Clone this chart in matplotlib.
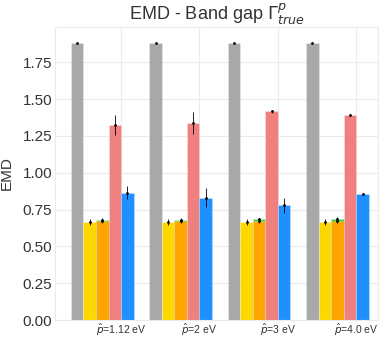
import matplotlib
matplotlib.use("Agg")
import matplotlib.pyplot as plt
import numpy as np

plt.rcParams['font.family'] = ['Liberation Sans', 'DejaVu Sans']
plt.rcParams['mathtext.fontset'] = 'dejavusans'

# data
groups = [r"$\hat{p}$=1.12 eV", r"$\hat{p}$=2 eV", r"$\hat{p}$=3 eV", r"$\hat{p}$=4.0 eV"]
gray_vals = [1.879, 1.879, 1.879, 1.881]
gray_err = [0.005, 0.005, 0.005, 0.005]
gold_vals = [0.665, 0.665, 0.665, 0.665]
gold_err = [0.022, 0.022, 0.022, 0.022]
green_vals = [0.683, 0.683, 0.684, 0.685]
green_err = [0.012, 0.012, 0.012, 0.012]
orange_vals = [0.674, 0.674, 0.675, 0.676]
orange_err = [0.015, 0.015, 0.015, 0.015]
salmon_vals = [1.327, 1.339, 1.418, 1.395]
salmon_err = [0.067, 0.075, 0.010, 0.005]
blue_vals = [0.866, 0.832, 0.780, 0.853]
blue_err = [0.043, 0.065, 0.050, 0.005]

w = 0.16
x = np.arange(len(groups))

fig = plt.figure(figsize=(3.79, 3.37), dpi=100)
ax = fig.add_axes([0.145, 0.05, 0.853, 0.87])

series = [
    (gray_vals, gray_err, "darkgray", -4),
    (gold_vals, gold_err, "gold", -3),
    (green_vals, green_err, "limegreen", -2),
    (orange_vals, orange_err, "orange", -2),
    (salmon_vals, salmon_err, "lightcoral", -1),
    (blue_vals, blue_err, "dodgerblue", 0),
]
for vals, err, col, off in series:
    ax.bar(x + off * w, vals, width=w, align="edge", color=col,
           edgecolor=(1, 1, 1, 0.3), linewidth=0.6, zorder=2)
for vals, err, col, off in series:
    ax.errorbar(x + off * w + w / 2, vals, yerr=err, fmt=".", color="black",
                markersize=2, elinewidth=0.6, zorder=3)

ax.set_xlim(-0.843, 3.28)
ax.set_ylim(0, 1.99)
ax.set_xticks(x)
ax.set_xticklabels(groups, fontsize=7.5)
ax.set_yticks(np.arange(0, 2.0, 0.25))
ax.set_yticklabels([f"{v:.2f}" for v in np.arange(0, 2.0, 0.25)], fontsize=11, color="#333333")
ax.tick_params(axis="both", length=0, pad=2)
ax.tick_params(axis="x", colors="#333333", pad=1)
ax.grid(True, color="#ebebeb", linewidth=0.8, zorder=0)
ax.set_axisbelow(True)
for s in ax.spines.values():
    s.set_color("#ebebeb")
    s.set_linewidth(0.8)
ax.set_ylabel("EMD", fontsize=11, color="#333333", labelpad=6)
ax.set_title(r"EMD - Band gap $\Gamma^p_{true}$", fontsize=13, color="#333333", pad=4)

fig.savefig("out.png", dpi=100)
